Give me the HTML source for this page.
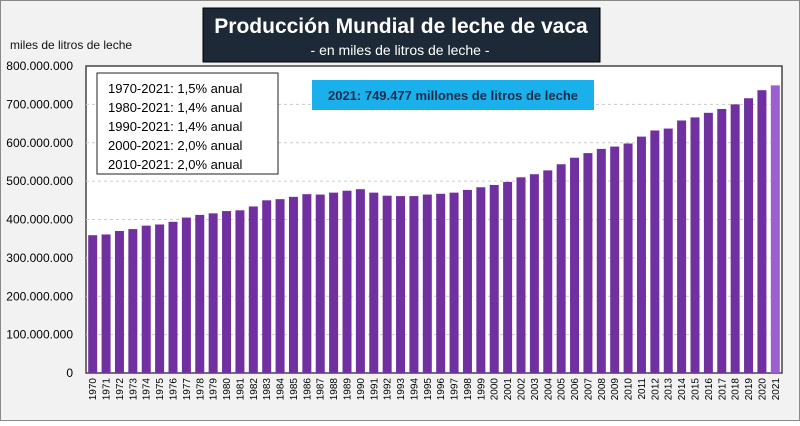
<!DOCTYPE html>
<html><head><meta charset="utf-8"><style>
body{margin:0;width:800px;height:421px;overflow:hidden;background:#fff;font-family:"Liberation Sans",sans-serif}
</style></head><body>
<svg width="800" height="421">
<rect x="0.5" y="0.5" width="799" height="420" fill="#f2f2f2" stroke="#888"/>
<rect x="86" y="66" width="696" height="307" fill="#fff" stroke="#444" stroke-width="1.5"/>
<g id="grid"></g>
<g id="bars"></g>
<g id="ylab"></g>
<g id="xlab"></g>
<text x="10" y="49" font-size="12" fill="#111">miles de litros de leche</text>
<rect x="203" y="8" width="397" height="54" fill="#1e2937" stroke="#000"/>
<text x="401" y="33" font-size="21" font-weight="bold" fill="#fff" text-anchor="middle">Producción Mundial de leche de vaca</text>
<text x="400" y="55" font-size="14" fill="#fff" text-anchor="middle">- en miles de litros de leche -</text>
<rect x="97" y="73" width="181" height="101" fill="#fff" stroke="#222"/>
<g font-size="13" fill="#000">
<text x="108" y="93">1970-2021: 1,5% anual</text>
<text x="108" y="112">1980-2021: 1,4% anual</text>
<text x="108" y="131">1990-2021: 1,4% anual</text>
<text x="108" y="150">2000-2021: 2,0% anual</text>
<text x="108" y="169">2010-2021: 2,0% anual</text>
</g>
<rect x="312" y="80" width="282" height="30" fill="#1ab0ec"/>
<text x="453" y="100" font-size="13" font-weight="bold" fill="#1d2c4a" text-anchor="middle">2021: 749.477 millones de litros de leche</text>
</svg>
<script>
const years=[];for(let y=1970;y<=2021;y++)years.push(y);
const values=[359,361,370,375,384,387,394,405,412,416,422,424,434,450,453,459,466,465,470,475,479,470,462,461,461,465,467,470,477,484,490,498,510,518,528,544,561,573,584,590,598,616,632,637,658,666,678,688,700,716,737,749.477];
const yTicks=[0,100,200,300,400,500,600,700,800];
const yTickLabels=["0","100.000.000","200.000.000","300.000.000","400.000.000","500.000.000","600.000.000","700.000.000","800.000.000"];
const NS="http://www.w3.org/2000/svg";
const y0=373,y1=66,x0=86,x1=782;
const yS=v=>y0-(v/800)*(y0-y1);
const slot=(x1-x0)/years.length;
const xS=i=>x0+slot*(i+0.5);
const grid=document.getElementById('grid'),bars=document.getElementById('bars'),yl=document.getElementById('ylab'),xl=document.getElementById('xlab');
yTicks.forEach((t,i)=>{
 if(t>0&&t<800){const l=document.createElementNS(NS,'line');
 l.setAttribute('x1',x0);l.setAttribute('x2',x1);l.setAttribute('y1',yS(t));l.setAttribute('y2',yS(t));
 l.setAttribute('stroke','#ccc');l.setAttribute('stroke-dasharray','3,3');
 
 
 grid.appendChild(l);}
 const tx=document.createElementNS(NS,'text');
 tx.setAttribute('x',73);tx.setAttribute('y',yS(t)+4);tx.setAttribute('text-anchor','end');tx.setAttribute('font-size','12');
 tx.textContent=yTickLabels[i];
 
 
 yl.appendChild(tx);
});
values.forEach((v,i)=>{
 const r=document.createElementNS(NS,'rect');const w=9;
 r.setAttribute('x',xS(i)-w/2);r.setAttribute('y',yS(v));r.setAttribute('width',w);r.setAttribute('height',y0-yS(v));
 r.setAttribute('fill',i==values.length-1?'#9b5fd0':'#7030a0');
 
 
 bars.appendChild(r);
 const tx=document.createElementNS(NS,'text');
 const cx=xS(i)+3.5,cy=378;
 tx.setAttribute('x',cx);tx.setAttribute('y',cy);tx.setAttribute('text-anchor','end');tx.setAttribute('font-size','10');
 tx.setAttribute('transform','rotate(-90 '+cx+' '+cy+')');
 tx.textContent=years[i];
 
 
 xl.appendChild(tx);
});
</script>
</body></html>
